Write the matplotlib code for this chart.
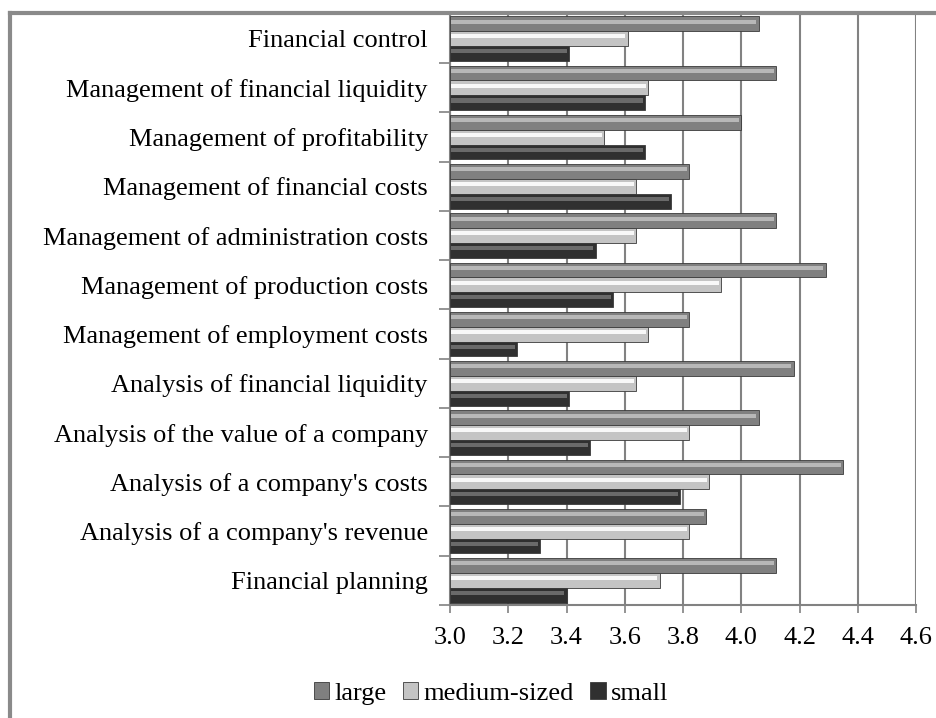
import numpy as np
import matplotlib.pyplot as plt
from matplotlib.patches import Patch
from matplotlib.lines import Line2D

# categories listed bottom -> top
categories = ['Financial planning', "Analysis of a company's revenue", "Analysis of a company's costs",
              'Analysis of the value of a company', 'Analysis of financial liquidity',
              'Management of employment costs', 'Management of production costs',
              'Management of administration costs', 'Management of financial costs',
              'Management of profitability', 'Management of financial liquidity', 'Financial control']
large = [4.12, 3.88, 4.35, 4.06, 4.18, 3.82, 4.29, 4.12, 3.82, 4.00, 4.12, 4.06]
medium = [3.72, 3.82, 3.89, 3.82, 3.64, 3.68, 3.93, 3.64, 3.64, 3.53, 3.68, 3.61]
small = [3.40, 3.31, 3.79, 3.48, 3.41, 3.23, 3.56, 3.50, 3.76, 3.67, 3.67, 3.41]
xticks = [3.0, 3.2, 3.4, 3.6, 3.8, 4.0, 4.2, 4.4, 4.6]

plt.rcParams['font.family'] = ['Liberation Serif', 'DejaVu Serif']

fig = plt.figure(figsize=(9.37, 7.18), dpi=100)
ax = fig.add_axes([0.4803, 0.1574, 0.4973, 0.8231])

y = np.arange(len(categories))
h = 0.30
series = [(large, 0.30, '#808080', '#b8b8b8', 'large'),
          (medium, 0.0, '#c4c4c4', '#f8f8f8', 'medium-sized'),
          (small, -0.30, '#303030', '#6a6a6a', 'small')]
base = 3.0
for vals, off, col, hl, name in series:
    w = np.array(vals) - base
    ax.barh(y + off, w, height=h, left=base, color=col, edgecolor='#3a3a3a', linewidth=0.6, zorder=3)
    # bevel highlight strip
    ax.barh(y + off + h * 0.15, w - 0.012, height=h * 0.28, left=base + 0.004, color=hl,
            linewidth=0, zorder=4)

ax.set_xlim(3.0, 4.6)
ax.set_ylim(-0.5, len(categories) - 0.5)
ax.set_xticks(xticks)
ax.set_xticklabels([f'{v:.1f}' for v in xticks], fontsize=19)
ax.xaxis.grid(True, color='#828282', linewidth=1.5, zorder=0)
ax.tick_params(axis='x', length=6, width=1.2, color='#828282', pad=10)

ax.set_yticks(np.arange(len(categories) + 1) - 0.5)
ax.set_yticklabels([])
ax.set_yticks(y, minor=True)
ax.set_yticklabels(categories, minor=True, fontsize=19)
ax.tick_params(axis='y', which='major', length=8, width=1.2, color='#828282')
ax.tick_params(axis='y', which='minor', length=0, pad=16)

for s in ['top', 'right']:
    ax.spines[s].set_visible(False)
for s in ['left', 'bottom']:
    ax.spines[s].set_color('#828282')
    ax.spines[s].set_linewidth(1.5)

# outer chart frame (partly cropped)
fig.add_artist(Line2D([10 / 937, 10 / 937], [0, 1 - 13 / 718], transform=fig.transFigure,
                      color='#8a8a8a', linewidth=3))
fig.add_artist(Line2D([10 / 937, 1], [1 - 13 / 718, 1 - 13 / 718], transform=fig.transFigure,
                      color='#8a8a8a', linewidth=3))

handles = [Patch(facecolor=c, edgecolor='#3a3a3a', linewidth=0.6, label=n) for _, _, c, _, n in series]
fig.legend(handles=handles, loc='center', bbox_to_anchor=(0.524, 0.034), ncol=3, frameon=False,
           fontsize=19, handlelength=0.6, handleheight=0.6, handletextpad=0.2, columnspacing=0.6)

fig.savefig('out.png', dpi=100)
